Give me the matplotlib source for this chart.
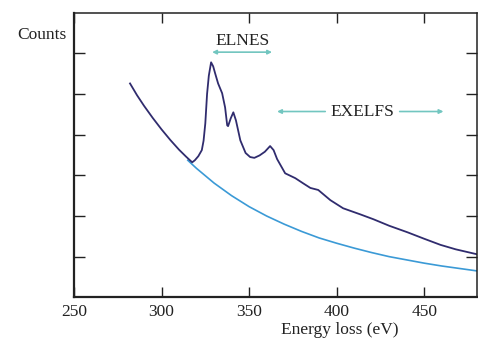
import matplotlib.pyplot as plt

# Спектр (тёмная линия): энергия, отсчёты
energy = [282, 286, 290, 295, 300, 305, 310, 314, 317.5, 319, 321, 323, 324,
          325, 326, 327, 328.3, 329.5, 330.6, 332.3, 334.6, 336.3, 337.5, 338,
          339.5, 341, 342.5, 345, 348, 350.6, 353, 356, 359, 362, 364, 366,
          370.6, 376.4, 381, 385, 389.5, 396.4, 403.7, 413.5, 421, 430, 440.4,
          450, 459.3, 468, 480]
counts = [5.26, 4.97, 4.71, 4.41, 4.13, 3.87, 3.63, 3.46, 3.32, 3.37, 3.47,
          3.62, 3.85, 4.28, 5.00, 5.45, 5.78, 5.68, 5.51, 5.26, 5.02, 4.67,
          4.23, 4.21, 4.40, 4.55, 4.35, 3.86, 3.55, 3.45, 3.43, 3.49, 3.58,
          3.72, 3.62, 3.40, 3.05, 2.93, 2.80, 2.69, 2.64, 2.39, 2.19, 2.04,
          1.92, 1.76, 1.60, 1.44, 1.29, 1.18, 1.06]

# Фон (голубая линия)
bg_energy = [315, 320, 330, 340, 350, 360, 370, 380, 390, 400, 410, 420, 430,
             440, 450, 460, 470, 480]
bg_counts = [3.37, 3.17, 2.81, 2.50, 2.23, 2.00, 1.80, 1.62, 1.46, 1.33, 1.21,
             1.10, 1.00, 0.92, 0.84, 0.77, 0.71, 0.65]

xticks = [250, 300, 350, 400, 450]

plt.rcParams['font.family'] = ['Liberation Serif', 'DejaVu Serif']

fig = plt.figure(figsize=(4.78, 3.40), dpi=100)
ax = fig.add_axes([0.1548, 0.1256, 0.8425, 0.837])

ax.plot(bg_energy, bg_counts, color='#3b9ad6', lw=1.2)
ax.plot(energy, counts, color='#302c6e', lw=1.3)

ax.set_xlim(250, 480)
ax.set_ylim(0, 7)
ax.set_xticks(xticks)
ax.set_yticks([1, 2, 3, 4, 5, 6])
ax.set_yticklabels([])
ax.tick_params(axis='x', direction='in', top=True, length=7, width=1.0,
               labelsize=12.5, pad=5, colors='#222222')
ax.tick_params(axis='y', direction='in', right=True, length=8, width=1.0,
               colors='#222222')
for side in ['left', 'bottom']:
    ax.spines[side].set_linewidth(1.6)
for side in ['top', 'right']:
    ax.spines[side].set_linewidth(1.1)
for s in ax.spines.values():
    s.set_color('#222222')

ax.set_xlabel('Energy loss (eV)', fontsize=12.5, labelpad=1, x=0.66, color='#222222')
ax.text(-0.08, 6.44, 'Counts', transform=ax.get_yaxis_transform(),
        ha='center', va='center', fontsize=12.5, color='#222222')

arrow_col = '#72c6c0'
ax.annotate('', xy=(328.9, 6.03), xytext=(363.1, 6.03),
            arrowprops=dict(arrowstyle='<|-|>', color=arrow_col, lw=1.2,
                            mutation_scale=6, shrinkA=0, shrinkB=0))
ax.text(346, 6.30, 'ELNES', ha='center', va='center', fontsize=12.5, color='#222222')

ax.text(414.6, 4.57, 'EXELFS', ha='center', va='center', fontsize=12.5, color='#222222')
ax.annotate('', xy=(366, 4.57), xytext=(393.5, 4.57),
            arrowprops=dict(arrowstyle='-|>', color=arrow_col, lw=1.2,
                            mutation_scale=6, shrinkA=0, shrinkB=0))
ax.annotate('', xy=(461, 4.57), xytext=(436, 4.57),
            arrowprops=dict(arrowstyle='-|>', color=arrow_col, lw=1.2,
                            mutation_scale=6, shrinkA=0, shrinkB=0))

fig.savefig('out.png', dpi=100)
